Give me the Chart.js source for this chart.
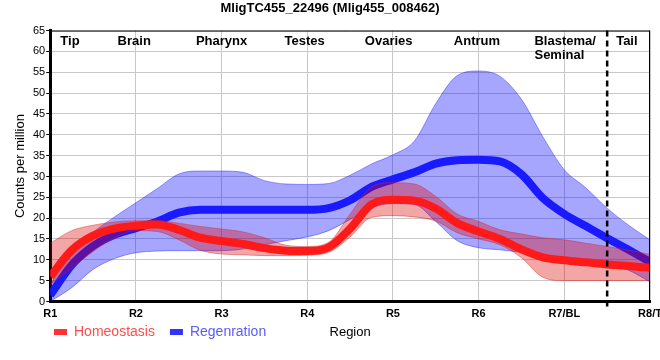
<!DOCTYPE html>
<html><head><meta charset="utf-8">
<script src="https://cdn.jsdelivr.net/npm/chart.js@4/dist/chart.umd.min.js"></script>
<style>html,body{margin:0;padding:0;background:#fff;overflow:hidden}canvas{display:block}</style>
</head><body>
<canvas id="c" width="660" height="360"></canvas>
<script>
const chartTitle = 'MligTC455_22496 (Mlig455_008462)';
const tickLabels = ['R1','R2','R3','R4','R5','R6','R7/BL','R8/T'];
const positions = [1,1.25,1.5,1.75,2,2.25,2.5,2.75,3,3.25,3.5,3.75,4,4.25,4.5,4.75,5,5.25,5.5,5.75,6,6.25,6.5,6.75,7,7.25,7.5,7.75,8];
const homeoMean = [6,12.3,15.8,17.5,18.2,18.5,17.2,15.3,14.5,13.8,12.8,12.2,12.1,13,17.5,23.3,24.4,24.2,22.3,18.8,16.8,15.0,12.5,10.6,9.9,9.4,8.9,8.5,8.1];
const homeoHigh = [14,17,18.3,19.1,19.4,19.4,18.8,18.0,17.4,16.7,15.3,13.5,13.2,14.2,21,27.5,28.5,28.2,25.2,21,19.2,17.2,16.2,15.3,14.8,14.0,13.2,12.3,11.3];
const homeoLow = [4,8,12,15.3,17,16.8,14.8,12.3,11.4,11.2,11,11,11.1,11.8,15.5,20.2,20.6,20.3,19.3,16.5,15,13.6,10.5,5.8,5,5,5,5,5];
const regenMean = [1.5,8.7,13.3,16,17.6,19.2,21.3,22,22,22,22,22,22,22.4,24.3,27.5,29.3,31,33.1,33.9,34,33.6,30.5,24.8,21,18.1,15.2,12.4,9.5];
const regenHigh = [4,12,16.6,20.3,23.7,27.1,30.6,31.3,31.3,31,29,28.2,28.1,28.3,30.3,33,35.2,38.5,47.5,54.2,55.3,54,48.5,39.5,31.6,27.3,22.4,18.3,14.8];
const regenLow = [0,3.3,7.7,10.3,11.7,12.1,12.2,12.2,12.2,12.6,13.6,14.6,15.5,17,19.7,22.5,23.5,23.3,19.2,14.6,12.9,12.4,11.8,11,10.2,9.6,9,7.5,4.7];
const seriesNames = ['Homeostasis','Regenration'];
const regionNames = [['Tip'],['Brain'],['Pharynx'],['Testes'],['Ovaries'],['Antrum'],['Blastema/','Seminal'],['Tail']];
const regionCenters = [1.23,1.98,3,3.97,4.95,5.98,7.01,7.73];
const dividerX = 7.5;
const dividerRange = [-1.2, 65];

const FONT = '"Liberation Sans", Arial, Helvetica, sans-serif';
Chart.defaults.font.family = FONT;
Chart.defaults.color = '#000';

const pts = arr => positions.map((x, i) => ({x, y: arr[i]}));
const RED = '#ff1a1a', BLUE = '#1a1aff';
const RED_BAND = 'rgba(220,0,0,0.35)', BLUE_BAND = 'rgba(0,0,255,0.35)';
const RED_EDGE = 'rgba(210,40,40,0.45)', BLUE_EDGE = 'rgba(40,40,255,0.45)';
const legendColors = [{box: '#ff3333', text: '#ff4d4d'}, {box: '#3333ff', text: '#5a5aff'}];

const common = {pointRadius: 0, cubicInterpolationMode: 'monotone', fill: false};

const extrasPlugin = {
  id: 'extras',
  afterLayout(chart) {
    chart.legend.left = 39;
    chart.legend.top -= 23;
  },
  afterDraw(chart) {
    const {ctx, chartArea: a, scales: {x}} = chart;
    ctx.save();
    ctx.strokeStyle = '#000';
    ctx.lineWidth = 1;
    ctx.beginPath();
    ctx.moveTo(a.left, a.top + 0.5); ctx.lineTo(a.right, a.top + 0.5);
    ctx.moveTo(a.right - 0.5, a.top); ctx.lineTo(a.right - 0.5, a.bottom);
    ctx.stroke();
    ctx.font = 'bold 13px ' + FONT;
    ctx.fillStyle = '#000';
    ctx.textAlign = 'left';
    ctx.textBaseline = 'alphabetic';
    regionNames.forEach((lines, i) => {
      const cx = x.getPixelForValue(regionCenters[i]);
      const w = Math.max(...lines.map(l => ctx.measureText(l).width));
      lines.forEach((l, j) => ctx.fillText(l, cx - w / 2, a.top + 14.5 + j * 14.3));
    });
    ctx.restore();
  }
};

new Chart(document.getElementById('c'), {
  type: 'line',
  data: {
    datasets: [
      {label: seriesNames[0], data: pts(homeoMean), borderColor: RED, backgroundColor: RED, borderWidth: 8, order: 1, ...common},
      {label: 'hHigh', data: pts(homeoHigh), borderColor: RED_EDGE, backgroundColor: RED_BAND, borderWidth: 1, order: 2, ...common, fill: '+1'},
      {label: 'hLow', data: pts(homeoLow), borderColor: RED_EDGE, borderWidth: 1, order: 2, ...common},
      {label: seriesNames[1], data: pts(regenMean), borderColor: BLUE, backgroundColor: BLUE, borderWidth: 8, order: 3, ...common},
      {label: 'rHigh', data: pts(regenHigh), borderColor: BLUE_EDGE, backgroundColor: BLUE_BAND, borderWidth: 1, order: 4, ...common, fill: '+1'},
      {label: 'rLow', data: pts(regenLow), borderColor: BLUE_EDGE, borderWidth: 1, order: 4, ...common},
      {label: 'divider', data: dividerRange.map(y => ({x: dividerX, y})), borderColor: '#000', borderWidth: 2.5, borderDash: [6, 4], pointRadius: 0, tension: 0, fill: false, clip: false, order: 0}
    ]
  },
  options: {
    responsive: false,
    animation: false,
    devicePixelRatio: 1,
    layout: {padding: {left: 0, right: 0, top: 0, bottom: -12}},
    plugins: {
      title: {display: true, text: chartTitle, color: '#000', font: {size: 13, weight: 'bold'}, padding: {top: 1, bottom: 14}},
      legend: {
        position: 'bottom', align: 'start',
        labels: {
          boxWidth: 13, boxHeight: 6, padding: 15, font: {size: 14},
          generateLabels: () => seriesNames.map((t, i) => ({
            text: t, datasetIndex: i * 3, fillStyle: legendColors[i].box, strokeStyle: legendColors[i].box,
            lineWidth: 0, fontColor: legendColors[i].text, hidden: false
          }))
        }
      },
      tooltip: {enabled: false}
    },
    scales: {
      x: {
        type: 'linear', min: 1, max: 8,
        afterFit: s => { s.paddingRight = 10; },
        ticks: {stepSize: 1, padding: 6, autoSkip: false, maxRotation: 0, font: {size: 11, weight: 'bold'},
          callback: v => Number.isInteger(v) ? tickLabels[v - 1] : ''},
        grid: {color: '#c8c8c8', drawTicks: false},
        border: {color: '#000', width: 3},
        title: {display: true, text: 'Region', font: {size: 13}, padding: {top: -2.5, bottom: -6.8}}
      },
      y: {
        min: 0, max: 65,
        ticks: {stepSize: 5, padding: 1, font: {size: 11}},
        grid: {color: '#c8c8c8', tickLength: 4, tickColor: '#000'},
        border: {color: '#000', width: 3},
        title: {display: true, text: 'Counts per million', font: {size: 13}, padding: {top: 12.7, bottom: 3.7}}
      }
    }
  },
  plugins: [extrasPlugin]
});
</script>
</body></html>
